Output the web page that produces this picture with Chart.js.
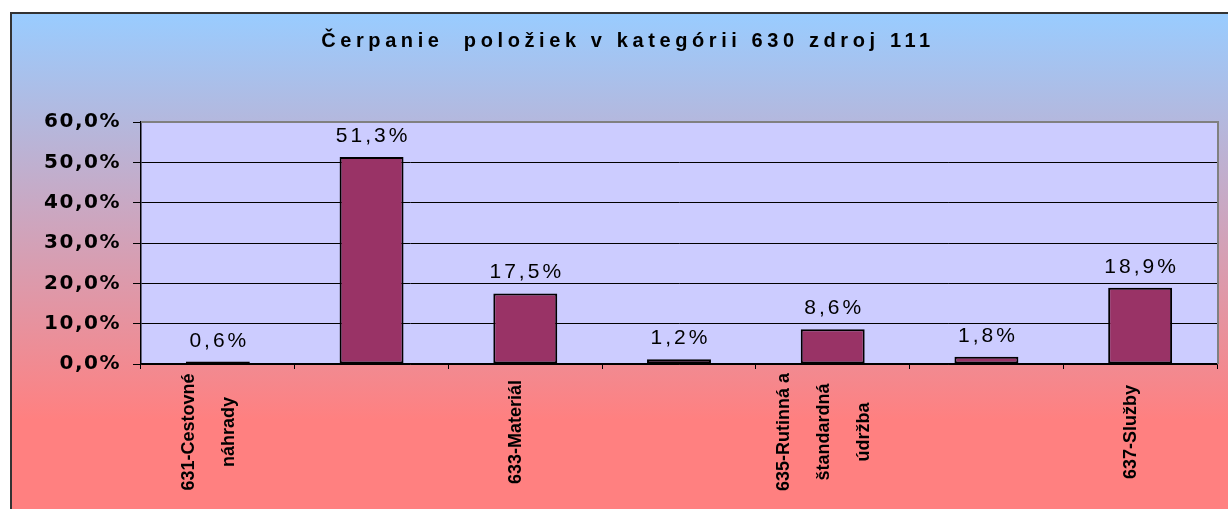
<!DOCTYPE html>
<html>
<head>
<meta charset="utf-8">
<script src="https://cdn.jsdelivr.net/npm/chart.js@4.4.1/dist/chart.umd.min.js"></script>
<style>
  html, body { margin: 0; padding: 0; background: #fff; }
  #box {
    position: absolute; left: 10px; top: 12px; width: 1240px; height: 520px;
    border: 2px solid #333;
    background: linear-gradient(#99ccff 0%, #ff8080 78%, #ff8080 100%);
  }
  #wrap { position: absolute; left: 0; top: 0; width: 1228px; height: 509px; }
</style>
</head>
<body>
<div id="box"></div>
<div id="wrap"><canvas id="graph_canvas"></canvas></div>
<script>
const chartTitle = 'Čerpanie  položiek v kategórii 630 zdroj 111';
const categories = ['631', '632', '633', '634', '635', '636', '637'];
const tickLabels = [
  ['631-Cestovné', 'náhrady'],
  [],
  ['633-Materiál'],
  [],
  ['635-Rutinná a', 'štandardná', 'údržba'],
  [],
  ['637-Služby']
];
const values = [0.6, 51.3, 17.5, 1.2, 8.6, 1.8, 18.9];
const yTicks = [0, 10, 20, 30, 40, 50, 60];

function pct(v, d) {
  return v.toFixed(d).replace('.', ',') + '%';
}

// plot background + spacing for the axis text
const bgPlugin = {
  id: 'bg',
  beforeDraw(chart) {
    const {ctx, chartArea: a} = chart;
    ctx.save();
    ctx.fillStyle = '#ccccff';
    ctx.fillRect(a.left, a.top, a.right - a.left, a.bottom - a.top);
    ctx.restore();
    ctx.letterSpacing = '1.5px';
  },
  beforeDatasetsDraw(chart) {
    const {ctx, chartArea: a} = chart;
    ctx.letterSpacing = '0px';
    ctx.save();
    ctx.strokeStyle = '#808080';
    ctx.lineWidth = 2;
    ctx.beginPath();
    ctx.moveTo(a.left, a.top);
    ctx.lineTo(a.right + 1, a.top);
    ctx.lineTo(a.right + 1, a.bottom);
    ctx.stroke();
    ctx.restore();
  }
};

const textPlugin = {
  id: 'texts',
  afterDatasetsDraw(chart) {
    const ctx = chart.ctx;
    const meta = chart.getDatasetMeta(0);
    ctx.save();
    ctx.fillStyle = '#000';
    ctx.textAlign = 'center';

    // value labels
    ctx.font = '21px "Liberation Sans"';
    ctx.letterSpacing = '3px';
    ctx.textBaseline = 'alphabetic';
    meta.data.forEach((bar, i) => {
      ctx.fillText(pct(values[i], 1), bar.x + 1.5, bar.y - 15);
    });

    // title
    ctx.font = 'bold 20px "Liberation Sans"';
    ctx.letterSpacing = '4.6px';
    ctx.fillText(chartTitle, 628, 47);

    // category labels, rotated
    const xs = chart.scales.x;
    ctx.font = 'bold 18px "Liberation Sans"';
    ctx.letterSpacing = '0px';
    ctx.textBaseline = 'middle';
    tickLabels.forEach((lines, i) => {
      if (!lines.length) return;
      const cx = xs.getPixelForValue(i) - 9;
      lines.forEach((ln, j) => {
        const x = cx + (j - (lines.length - 1) / 2) * 40;
        ctx.save();
        ctx.translate(x, 432);
        ctx.rotate(-Math.PI / 2);
        ctx.fillText(ln, 0, 0);
        ctx.restore();
      });
    });
    ctx.restore();
  }
};

const ctx = document.getElementById('graph_canvas');

const config = {
  type: 'bar',
  data: {
    labels: categories,
    datasets: [{
      data: values,
      backgroundColor: '#993366',
      borderColor: '#000',
      borderWidth: 2,
      borderSkipped: false,
      barPercentage: 0.416,
      categoryPercentage: 1
    }]
  },
  options: {
    responsive: true,
    maintainAspectRatio: false,
    animation: false,
    layout: { padding: { left: 0, right: 11, top: 122, bottom: 0 } },
    plugins: {
      legend: { display: false },
      title: { display: false },
      tooltip: { enabled: false }
    },
    scales: {
      x: {
        grid: { display: true, drawOnChartArea: false, drawTicks: true, tickLength: 5, offset: true, color: '#000' },
        border: { color: '#000', width: 1.5 },
        ticks: { display: false },
        afterFit(scale) { scale.height = 145; }
      },
      y: {
        min: 0,
        max: 60,
        afterBuildTicks(scale) { scale.ticks = yTicks.map(v => ({ value: v })); },
        grid: { color: '#000', lineWidth: 1, tickLength: 8 },
        border: { color: '#000', width: 1.5 },
        ticks: {
          color: '#000',
          padding: 12,
          font: { family: '"DejaVu Sans"', weight: 'bold', size: 20 },
          callback: function(value) { return pct(value, 1); }
        },
        afterFit(scale) { scale.width = 141; }
      }
    }
  },
  plugins: [bgPlugin, textPlugin]
};

var myChart = new Chart(ctx, config);
</script>
</body>
</html>
